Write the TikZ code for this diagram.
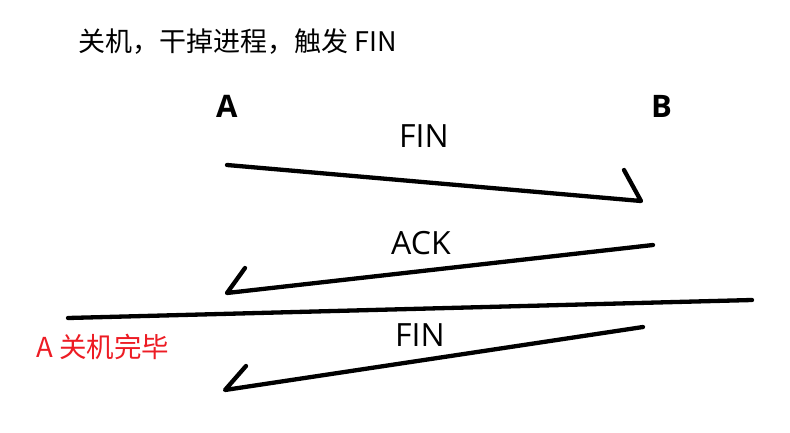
\documentclass[tikz,border=0pt]{standalone}
\usepackage{fontspec}
\setmainfont{Open Sans}
\newfontfamily\cjk{Noto Sans CJK SC}
\definecolor{donered}{RGB}{237,28,36}
\begin{document}
\begin{tikzpicture}[x=1pt,y=-1pt,
  lbl/.style={inner sep=0pt, anchor=base west, font=\fontsize{32}{36}\selectfont},
  peer/.style={inner sep=0pt, anchor=base west, font=\fontsize{31}{35}\selectfont\bfseries},
  conn/.style={line width=4.3pt, line cap=round, line join=round}]
\useasboundingbox (0,0) rectangle (790,433);
% texts
\node[inner sep=0pt, anchor=base west, font=\cjk\fontsize{27}{31}\selectfont] (title) at (78,52) {关机，干掉进程，触发 FIN};
\node[peer] (A) at (216,118) {A};
\node[peer] (B) at (651,118) {B};
\node[lbl] (fin1) at (399,148) {FIN};
\node[lbl] (ack) at (391,254) {ACK};
\node[lbl] (fin2) at (395,346) {FIN};
\node[inner sep=0pt, anchor=base west, text=donered, font=\cjk\fontsize{27.5}{31}\selectfont] (done) at (36,357) {A 关机完毕};
% connector end points
\coordinate (s1) at (227,165); \coordinate (e1) at (641,201); \coordinate (b1) at (624,170);
\coordinate (s2) at (653,245); \coordinate (e2) at (227,293); \coordinate (b2) at (245,268);
\coordinate (s3) at (68,318);  \coordinate (e3) at (752,300);
\coordinate (s4) at (643,327); \coordinate (e4) at (225,390); \coordinate (b4) at (246,366);
% connectors
\draw[conn] (s1) -- (e1) -- (b1);
\draw[conn] (s2) -- (e2) -- (b2);
\draw[conn] (s3) -- (e3);
\draw[conn] (s4) -- (e4) -- (b4);
\end{tikzpicture}
\end{document}
